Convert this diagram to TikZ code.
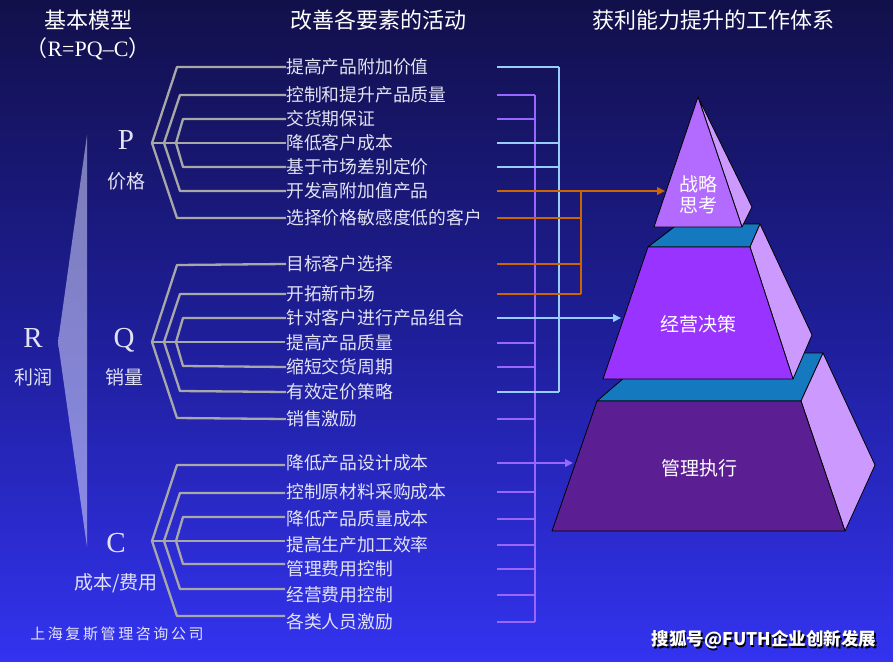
\documentclass[tikz,border=0pt]{standalone}
\usepackage{fontspec}
\setmainfont{Liberation Serif}
\newfontfamily\cjk{Noto Sans CJK SC}
\usetikzlibrary{arrows.meta}
\definecolor{bgtop}{HTML}{12104A}
\definecolor{bgmid}{HTML}{1E1E98}
\definecolor{bgbot}{HTML}{3333F0}
\definecolor{brc}{HTML}{A8A8A8}
\definecolor{txc}{HTML}{E2E2F2}
\definecolor{lblue}{HTML}{99CCFF}
\definecolor{lpurp}{HTML}{9966FF}
\definecolor{orng}{HTML}{CC6600}
\definecolor{teal}{HTML}{1479BF}
\definecolor{sidec}{HTML}{CC99FF}
\definecolor{ftop}{HTML}{B36BFF}
\definecolor{fmid}{HTML}{9933FF}
\definecolor{fbot}{HTML}{5C1F93}
\definecolor{wtop}{HTML}{7C7CB8}
\definecolor{wbot}{HTML}{8A8AE8}
\begin{document}
\begin{tikzpicture}[x=1pt,y=-1pt,
  item/.style={anchor=west,inner sep=0pt,text=txc,font=\cjk\fontsize{17.8}{18}\selectfont},
  hdr/.style={inner sep=0pt,text=white,font=\cjk\fontsize{22}{24}\selectfont},
  letter/.style={inner sep=0pt,text=txc,font=\fontsize{29}{30}\selectfont},
  sub/.style={inner sep=0pt,text=txc,font=\cjk\fontsize{19}{20}\selectfont},
  plab/.style={inner sep=0pt,text=white,font=\cjk\fontsize{19}{21}\selectfont,align=center},
  br/.style={draw=brc,line width=2.3pt,line join=round},
  cb/.style={line width=2pt},
  tipa/.style={-{Triangle[length=8pt,width=7.5pt]}},
  face/.style={draw=black,line width=0.8pt,line join=round}]
\useasboundingbox (0,0) rectangle (893,661);
\shade[top color=bgtop,bottom color=bgbot,middle color=bgmid] (0,0) rectangle (893,661);

% headers
\node[hdr] (h1) at (88,20) {基本模型};
\node[inner sep=0pt,text=white,font=\fontsize{22}{23}\selectfont] (h2) at (88,49) {{\cjk （}R=PQ–C{\cjk ）}};
\node[hdr] (h3) at (378,20) {改善各要素的活动};
\node[hdr] (h4) at (713,20) {获利能力提升的工作体系};

% wedge
\shade[top color=wtop, bottom color=wbot]
  (87,135) -- (58,342) -- (87,547) -- cycle;

% letters
\node[letter] (R) at (33,338) {R};
\node[sub] (Rt) at (33,377) {利润};
\node[letter] (P) at (126,140) {P};
\node[sub] (Pt) at (126,181) {价格};
\node[letter] (Q) at (124,340) {Q};
\node[sub] (Qt) at (124,377) {销量};
\node[letter] (C) at (116,543) {C};
\node[sub] (Ct) at (116,583) {成本/费用};

% items P
\node[item] (p1) at (286,67) {提高产品附加价值};
\node[item] (p2) at (286,95) {控制和提升产品质量};
\node[item] (p3) at (286,119) {交货期保证};
\node[item] (p4) at (286,143) {降低客户成本};
\node[item] (p5) at (286,167) {基于市场差别定价};
\node[item] (p6) at (286,191) {开发高附加值产品};
\node[item] (p7) at (286,218) {选择价格敏感度低的客户};
% items Q
\node[item] (q1) at (286,264) {目标客户选择};
\node[item] (q2) at (286,294) {开拓新市场};
\node[item] (q3) at (286,318) {针对客户进行产品组合};
\node[item] (q4) at (286,343) {提高产品质量};
\node[item] (q5) at (286,367) {缩短交货周期};
\node[item] (q6) at (286,392) {有效定价策略};
\node[item] (q7) at (286,419) {销售激励};
% items C
\node[item] (c1) at (286,463) {降低产品设计成本};
\node[item] (c2) at (286,492) {控制原材料采购成本};
\node[item] (c3) at (286,519) {降低产品质量成本};
\node[item] (c4) at (286,545) {提高生产加工效率};
\node[item] (c5) at (286,569) {管理费用控制};
\node[item] (c6) at (286,595) {经营费用控制};
\node[item] (c7) at (286,622) {各类人员激励};

% brackets
\coordinate (Pr) at (152,143);
\draw[br] (p1.west) -- (177,67) -- (Pr) -- (177,218) -- (p7.west);
\draw[br] (p2.west) -- (180,95) -- (164,143) -- (180,191) -- (p6.west);
\draw[br] (p3.west) -- (183,119) -- (176,143) -- (183,167) -- (p5.west);
\draw[br] (Pr) -- (p4.west);
\coordinate (Qr) at (152,342);
\draw[br] (q1.west) -- (177,265) -- (Qr) -- (177,418) -- (q7.west);
\draw[br] (q2.west) -- (180,294) -- (164,342) -- (180,391) -- (q6.west);
\draw[br] (q3.west) -- (183,318) -- (176,342) -- (183,366) -- (q5.west);
\draw[br] (Qr) -- (285,342);
\coordinate (Cr) at (152,541);
\draw[br] (285,465) -- (177,465) -- (Cr) -- (177,616) -- (285,616);
\draw[br] (285,493) -- (180,493) -- (164,541) -- (180,589) -- (285,589);
\draw[br] (285,517) -- (183,517) -- (176,541) -- (183,564) -- (285,564);
\draw[br] (Cr) -- (285,541);

% pyramid bottom tier
\filldraw[face,fill=teal] (597,401) -- (801,401) -- (823,353) -- (653,353) -- cycle;
\filldraw[face,fill=sidec] (801,401) -- (823,353) -- (875,465) -- (845,531) -- cycle;
\filldraw[face,fill=fbot] (597,401) -- (801,401) -- (845,531) -- (552,531) -- cycle;
% middle tier
\filldraw[face,fill=teal] (648,247) -- (750,247) -- (760,224) -- (678,224) -- cycle;
\filldraw[face,fill=sidec] (750,247) -- (760,224) -- (812,335) -- (793,379) -- cycle;
\filldraw[face,fill=fmid] (648,247) -- (750,247) -- (793,379) -- (603,379) -- cycle;
% top piece
\filldraw[face,fill=sidec] (698,97) -- (752,207) -- (742,227) -- cycle;
\filldraw[face,fill=ftop] (698,97) -- (742,227) -- (654,227) -- cycle;

\node[plab] (s1) at (698,195) {战略\\思考};
\node[plab] (s2) at (698,324) {经营决策};
\node[plab] (s3) at (699,468) {管理执行};

\coordinate (topin) at (665,191);
\coordinate (midin) at (621,318);
\coordinate (botin) at (573,463);

% purple bus
\begin{scope}[draw=lpurp,cb]
\foreach \y in {95,119,343,367,419,463,492,519,545,569,595,622}
  \draw (497,\y) -- (535,\y);
\draw (535,95) -- (535,622);
\draw[tipa,lpurp] (535,463) -- (botin);
\end{scope}
% light blue bus
\begin{scope}[draw=lblue,cb]
\foreach \y in {67,143,167,318,392}
  \draw (497,\y) -- (559,\y);
\draw (559,67) -- (559,392);
\draw[tipa,lblue] (559,318) -- (midin);
\end{scope}
% orange bus
\begin{scope}[draw=orng,cb]
\foreach \y in {218,264,294}
  \draw (497,\y) -- (581,\y);
\draw (581,191) -- (581,294);
\draw[tipa,orng] (497,191) -- (topin);
\end{scope}

% footer
\node[inner sep=0pt,text=txc,font=\cjk\fontsize{15}{16}\selectfont] (co) at (117,634)
  {上\hspace{2.6pt}海\hspace{2.6pt}复\hspace{2.6pt}斯\hspace{2.6pt}管\hspace{2.6pt}理\hspace{2.6pt}咨\hspace{2.6pt}询\hspace{2.6pt}公\hspace{2.6pt}司};
\node[inner sep=0pt,text=black,font=\cjk\bfseries\fontsize{17.5}{18}\selectfont] (wms) at (765.5,641.5) {搜狐号@FUTH企业创新发展};
\node[inner sep=0pt,text=white,font=\cjk\bfseries\fontsize{17.5}{18}\selectfont] (wm) at (764,640) {搜狐号@FUTH企业创新发展};
\end{tikzpicture}
\end{document}
